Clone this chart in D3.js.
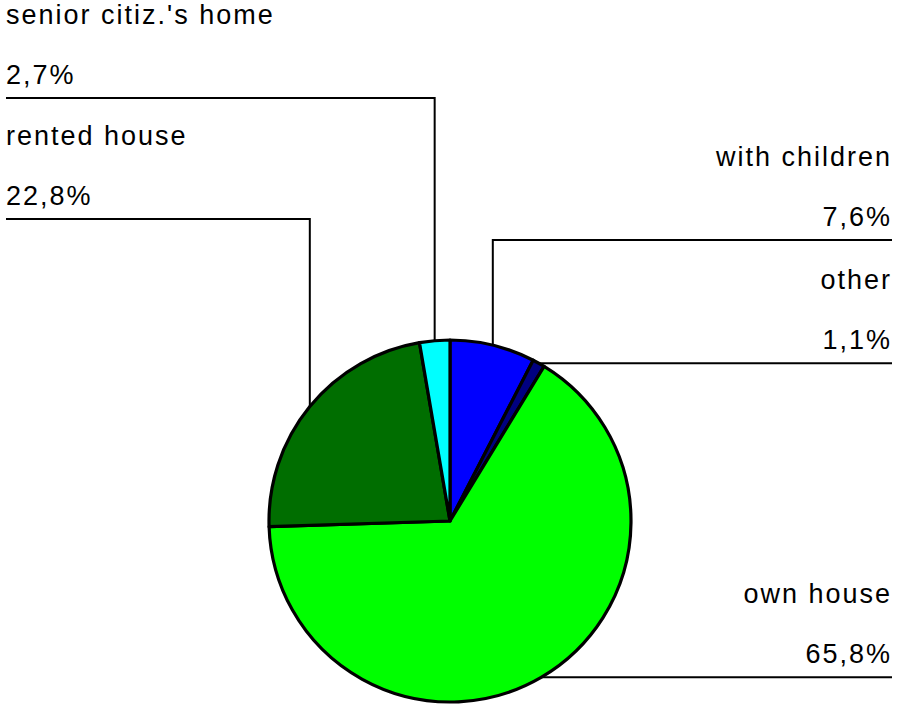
<!DOCTYPE html>
<html>
<head>
<meta charset="utf-8">
<script src="https://cdn.jsdelivr.net/npm/d3@7"></script>
<style>
  body { margin: 0; background: #fff; }
  text { font-family: "Liberation Sans", Arial, sans-serif; font-size: 27px; fill: #000; letter-spacing: 2px; }
</style>
</head>
<body>
<svg></svg>
<script>
const categories = ['with children', 'other', 'own house', 'rented house', "senior citiz.'s home"]
const values = [7.6, 1.1, 65.8, 22.8, 2.7]
const valueLabels = ['7,6%', '1,1%', '65,8%', '22,8%', '2,7%']
const colors = ['#0000ff', '#000080', '#00ff00', '#006e00', '#00ffff']

// where each label line sits: side and y of the horizontal rule (null = level with the slice)
const labelSide = ['right', 'right', 'right', 'left', 'left']
const labelLineY = [240, null, null, 219, 98]

const W = 898, H = 705
const cx = 450, cy = 521, R = 181
const leftX = 6, rightX = 892

const svg = d3.select('svg')
    .attr('width', W)
    .attr('height', H)

const data = categories.map((c, i) => ({ name: c, value: values[i], label: valueLabels[i], color: colors[i], side: labelSide[i], lineY: labelLineY[i] }))

const pie = d3.pie()
    .sort(null)
    .value(d => d.value)
const arcs = pie(data)
const arc = d3.arc().innerRadius(0).outerRadius(R)

const g = svg.append('g').attr('transform', `translate(${cx},${cy})`)

g.selectAll('path')
    .data(arcs)
    .enter()
    .append('path')
    .attr('d', arc)
    .attr('fill', d => d.data.color)
    .attr('stroke', '#000')
    .attr('stroke-width', 3.2)
    .attr('stroke-linejoin', 'round')

// leader lines
const lines = svg.append('g')
for (const a of arcs) {
    const mid = (a.startAngle + a.endAngle) / 2
    const px = cx + R * Math.sin(mid)
    const py = cy - R * Math.cos(mid)
    const d = a.data
    const edgeX = d.side === 'right' ? rightX : leftX
    let pts
    if (d.lineY == null) {
        pts = [[px, py], [edgeX, py]]
        d.ly = py
    } else {
        pts = [[px, py], [px, d.lineY], [edgeX, d.lineY]]
        d.ly = d.lineY
    }
    lines.append('path')
        .attr('d', d3.line()(pts))
        .attr('fill', 'none')
        .attr('stroke', '#000')
        .attr('stroke-width', 2)
}

const labels = svg.append('g')
for (const a of arcs) {
    const d = a.data
    const x = d.side === 'right' ? rightX : leftX
    const anchor = d.side === 'right' ? 'end' : 'start'
    labels.append('text')
        .attr('x', x)
        .attr('y', d.ly - 14)
        .attr('text-anchor', anchor)
        .text(d.label)
    labels.append('text')
        .attr('x', x)
        .attr('y', d.ly - 74)
        .attr('text-anchor', anchor)
        .text(d.name)
}
</script>
</body>
</html>
